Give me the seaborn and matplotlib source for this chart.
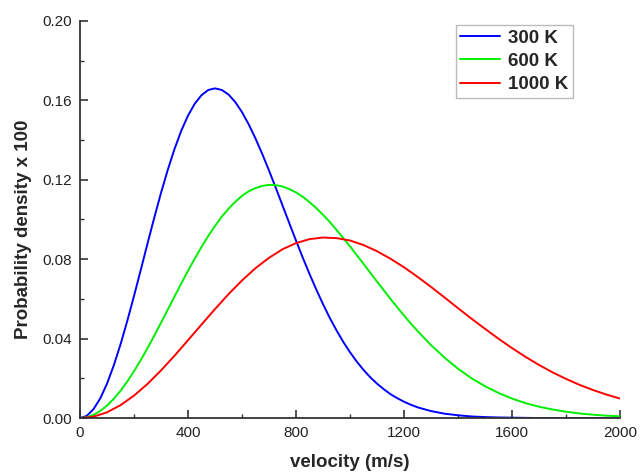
# Maxwell-Boltzmann speed distribution at three temperatures

import matplotlib
matplotlib.use('Agg')
import matplotlib.pyplot as plt
from matplotlib.ticker import MultipleLocator
import seaborn as sns
import pandas as pd

# velocity grids (m/s): finer where the curves bend most
velocity_fine = list(range(0, 1250, 25)) + list(range(1250, 2001, 50))
velocity_coarse = list(range(0, 2001, 50))

# probability density x 100
density_300 = [0.0000, 0.0011, 0.0045, 0.0099, 0.0173, 0.0265, 0.0371, 0.0489, 0.0615, 0.0746,
               0.0879, 0.1009, 0.1134, 0.1250, 0.1355, 0.1447, 0.1523, 0.1583, 0.1626, 0.1652,
               0.1660, 0.1652, 0.1629, 0.1591, 0.1540, 0.1478, 0.1407, 0.1329, 0.1246, 0.1159,
               0.1070, 0.0981, 0.0893, 0.0807, 0.0725, 0.0647, 0.0573, 0.0504, 0.0441, 0.0383,
               0.0331, 0.0284, 0.0242, 0.0205, 0.0173, 0.0145, 0.0120, 0.0100, 0.0082, 0.0067,
               0.0054, 0.0035, 0.0022, 0.0014, 0.0008, 0.0005, 0.0003, 0.0002, 0.0001, 0.0000,
               0.0000, 0.0000, 0.0000, 0.0000, 0.0000, 0.0000]
density_600 = [0.0000, 0.0004, 0.0016, 0.0036, 0.0063, 0.0097, 0.0137, 0.0184, 0.0236, 0.0292,
               0.0352, 0.0415, 0.0480, 0.0546, 0.0612, 0.0678, 0.0742, 0.0803, 0.0862, 0.0917,
               0.0968, 0.1014, 0.1054, 0.1089, 0.1119, 0.1142, 0.1158, 0.1169, 0.1174, 0.1173,
               0.1166, 0.1153, 0.1136, 0.1114, 0.1087, 0.1057, 0.1023, 0.0987, 0.0947, 0.0906,
               0.0864, 0.0820, 0.0776, 0.0731, 0.0687, 0.0643, 0.0599, 0.0557, 0.0516, 0.0476,
               0.0438, 0.0367, 0.0304, 0.0248, 0.0200, 0.0160, 0.0126, 0.0098, 0.0075, 0.0057,
               0.0043, 0.0032, 0.0023, 0.0017, 0.0012, 0.0009]
density_1000 = [0.0000, 0.0007, 0.0029, 0.0065, 0.0113, 0.0172, 0.0240, 0.0314, 0.0392, 0.0471,
                0.0549, 0.0624, 0.0693, 0.0755, 0.0807, 0.0850, 0.0881, 0.0901, 0.0909, 0.0906,
                0.0894, 0.0871, 0.0840, 0.0802, 0.0759, 0.0711, 0.0660, 0.0607, 0.0553, 0.0500,
                0.0449, 0.0399, 0.0352, 0.0308, 0.0267, 0.0230, 0.0197, 0.0167, 0.0141, 0.0118,
                0.0098]

labels = ['300 K', '600 K', '1000 K']
colors = ['#0000ff', '#00ee00', '#ff0000']

sns.set_style('white')
plt.rcParams['font.family'] = ['Liberation Sans', 'DejaVu Sans']

df = pd.DataFrame({
    'velocity': velocity_fine * 2 + velocity_coarse,
    'density': density_300 + density_600 + density_1000,
    'T': [labels[0]] * len(velocity_fine) + [labels[1]] * len(velocity_fine)
         + [labels[2]] * len(velocity_coarse),
})

fig = plt.figure(figsize=(6.4, 4.74), dpi=100)
ax = fig.add_axes([0.125, 0.118, 0.844, 0.838])

sns.lineplot(data=df, x='velocity', y='density', hue='T', hue_order=labels,
             palette=colors, linewidth=1.4, ax=ax)

ax.set_xlim(0, 2000)
ax.set_ylim(0, 0.20)
ax.xaxis.set_major_locator(MultipleLocator(400))
ax.xaxis.set_minor_locator(MultipleLocator(200))
ax.yaxis.set_major_locator(MultipleLocator(0.04))
ax.yaxis.set_minor_locator(MultipleLocator(0.02))
ax.yaxis.set_major_formatter(plt.FormatStrFormatter('%.2f'))

ax.tick_params(which='major', direction='in', length=6, width=1.2, color='#333333',
               labelsize=11, labelcolor='#222222', pad=6)
ax.tick_params(which='minor', direction='in', length=3, width=1.0, color='#333333')
ax.tick_params(axis='x', bottom=True, which='both')
ax.tick_params(axis='y', left=True, which='both')

for side in ['top', 'right']:
    ax.spines[side].set_visible(False)
for side in ['left', 'bottom']:
    ax.spines[side].set_color('#333333')
    ax.spines[side].set_linewidth(1.3)

ax.set_xlabel('velocity (m/s)', fontsize=13.5, fontweight='bold', labelpad=10)
ax.set_ylabel('Probability density x 100', fontsize=13.5, fontweight='bold', labelpad=7)
ax.yaxis.label.set_y(0.475)

leg = ax.legend(loc='upper right', bbox_to_anchor=(0.913, 0.99),
                prop={'weight': 'bold', 'size': 13.5}, frameon=True, fancybox=False,
                edgecolor='#aaaaaa', handlelength=2.1, handletextpad=0.45,
                borderpad=0.25, labelspacing=0.33, borderaxespad=0.0)
leg.get_frame().set_linewidth(1.0)

fig.savefig('out.png', dpi=100)
